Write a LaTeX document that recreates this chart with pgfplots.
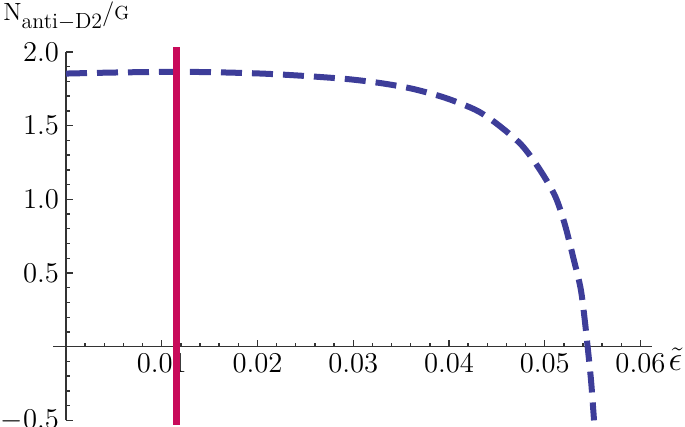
\documentclass[border=0pt]{standalone}
\usepackage{pgfplots}
\pgfplotsset{compat=1.18}
\definecolor{curveblue}{rgb}{0.24,0.24,0.6}
\definecolor{markred}{HTML}{C80A5A}
\begin{document}
\begin{tikzpicture}[font=\fontsize{13.5}{16}\selectfont]
\path[use as bounding box] (-33bp,-40.15bp) rectangle (309.5bp,173.35bp);
\begin{axis}[
  anchor=origin, at={(0,0)},
  scale only axis, width=299.2bp, height=184.25bp,
  axis lines=middle,
  axis line style={black!80, line width=0.6pt, -},
  xmin=-0.00133, xmax=0.06117, ymin=-0.5, ymax=2.0,
  xtick={0.01,0.02,0.03,0.04,0.05,0.06},
  ytick={-0.5,0.5,1,1.5,2},
  minor xtick={0.002,0.004,0.006,0.008,0.012,0.014,0.016,0.018,0.022,0.024,0.026,0.028,0.032,0.034,0.036,0.038,0.042,0.044,0.046,0.048,0.052,0.054,0.056,0.058},
  minor ytick={-0.4,-0.3,-0.2,-0.1,0.1,0.2,0.3,0.4,0.6,0.7,0.8,0.9,1.1,1.2,1.3,1.4,1.6,1.7,1.8,1.9},
  tick align=inside,
  major tick length=3.4bp, minor tick length=2bp,
  major tick style={black!80, line width=0.7pt},
  minor tick style={black!80, line width=0.7pt},
  xticklabel style={/pgf/number format/.cd, fixed, fixed zerofill, precision=2},
  yticklabel style={/pgf/number format/.cd, fixed, fixed zerofill, precision=1},
  scaled x ticks=false,
  clip=false,
]
\addplot[curveblue, line width=3bp, dash pattern=on 10.5bp off 5bp, smooth] table {
x y
0 1.853
0.005 1.860
0.010 1.864
0.0147 1.863
0.020 1.854
0.0234 1.843
0.0267 1.829
0.0298 1.813
0.033 1.787
0.0361 1.751
0.0392 1.697
0.0414 1.645
0.0432 1.592
0.0452 1.502
0.0476 1.367
0.0495 1.200
0.0511 1.020
0.0521 0.830
0.0530 0.600
0.05375 0.395
0.0542 0.170
0.0548 -0.203
0.05507 -0.429
0.05515 -0.500
};
\addplot[markred, line width=3.5bp] coordinates {(0.0115,-0.53) (0.0115,2.03)};
\node[anchor=west, xshift=5bp, yshift=-6.5bp] at (axis cs:0.06117,0) {\fontsize{16}{18}\selectfont$\tilde{\epsilon}$};
\node[anchor=base west, inner sep=0pt, xshift=-31.5bp, yshift=15.75bp] at (axis cs:0,2) {\fontsize{12.5}{14}\selectfont N\raisebox{-4bp}{\fontsize{11}{13}\selectfont anti$-$D2}/\raisebox{0.5bp}{\fontsize{9.5}{11}\selectfont G}};
\end{axis}
\end{tikzpicture}
\end{document}
